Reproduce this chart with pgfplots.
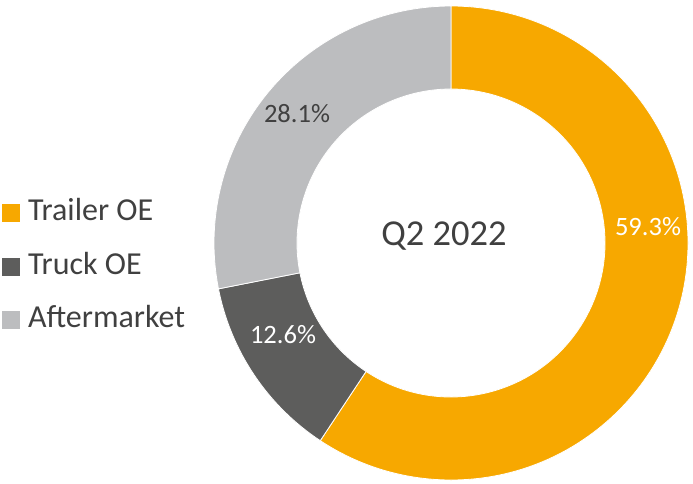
\documentclass[border=0pt]{standalone}
\usepackage{pgfplots}
\pgfplotsset{compat=1.18}
\usepackage{pgfplotstable}
\usepackage{fontspec}
\setmainfont{Carlito}

\definecolor{trailer}{HTML}{F7A800}
\definecolor{truck}{HTML}{5D5D5C}
\definecolor{after}{HTML}{BCBDBF}
\definecolor{txt}{HTML}{404040}

% shares in percent, Q2 2022
\pgfplotstableread{
share
59.3
12.6
28.1
}\sharetable

% one ring segment: colour, start angle, end angle
\newcommand\ring[3]{%
  \fill[#1, draw=white, line width=0.8pt]
    ([shift={(#2:237pt)}]axis cs:451,240) arc[start angle=#2, end angle=#3, radius=237pt]
    -- ([shift={(#3:154pt)}]axis cs:451,240) arc[start angle=#3, end angle=#2, radius=154pt]
    -- cycle;}

\begin{document}
\begin{tikzpicture}
\pgfplotstablegetelem{0}{share}\of\sharetable\let\sA\pgfplotsretval
\pgfplotstablegetelem{1}{share}\of\sharetable\let\sB\pgfplotsretval
\pgfplotstablegetelem{2}{share}\of\sharetable\let\sC\pgfplotsretval
\pgfmathsetmacro\aA{90}
\pgfmathsetmacro\aB{\aA-3.6*\sA}
\pgfmathsetmacro\aC{\aB-3.6*\sB}
\pgfmathsetmacro\aD{\aC-3.6*\sC}
\begin{axis}[name=ax, x=1pt, y=1pt, xmin=0, xmax=693, ymin=0, ymax=483,
  hide axis, clip=false,
  legend cell align=left,
  legend image code/.code={\fill[#1] (0pt,-9pt) rectangle (18pt,9pt);},
  legend style={draw=none, fill=none, inner sep=0pt, outer sep=0pt,
    at={(axis cs:2,216.5)}, anchor=west,
    font=\fontsize{32}{38}\selectfont, text=txt,
    row sep=26.5pt, column sep=8pt,
    nodes={inner sep=0pt, text height=21pt, text depth=6pt}}]
\addlegendimage{fill=trailer, draw=none}
\addlegendimage{fill=truck, draw=none}
\addlegendimage{fill=after, draw=none}
\legend{Trailer OE, Truck OE, Aftermarket}

\ring{trailer}{\aA}{\aB}
\ring{truck}{\aB}{\aC}
\ring{after}{\aC}{\aD}

\node[anchor=base, inner sep=0pt, font=\fontsize{26.5}{30}\selectfont, text=txt] at (axis cs:297,360) {28.1\%};
\node[anchor=base, inner sep=0pt, font=\fontsize{26.5}{30}\selectfont, text=white] at (axis cs:648,248) {59.3\%};
\node[anchor=base, inner sep=0pt, font=\fontsize{26.5}{30}\selectfont, text=white] at (axis cs:283,139.7) {12.6\%};
\node[anchor=base, inner sep=0pt, font=\fontsize{36.5}{42}\selectfont, text=txt] at (axis cs:444,238) {Q2 2022};
\end{axis}
% page = axis box
\pgfresetboundingbox
\path (ax.south west) rectangle (ax.north east);
\end{tikzpicture}
\end{document}
